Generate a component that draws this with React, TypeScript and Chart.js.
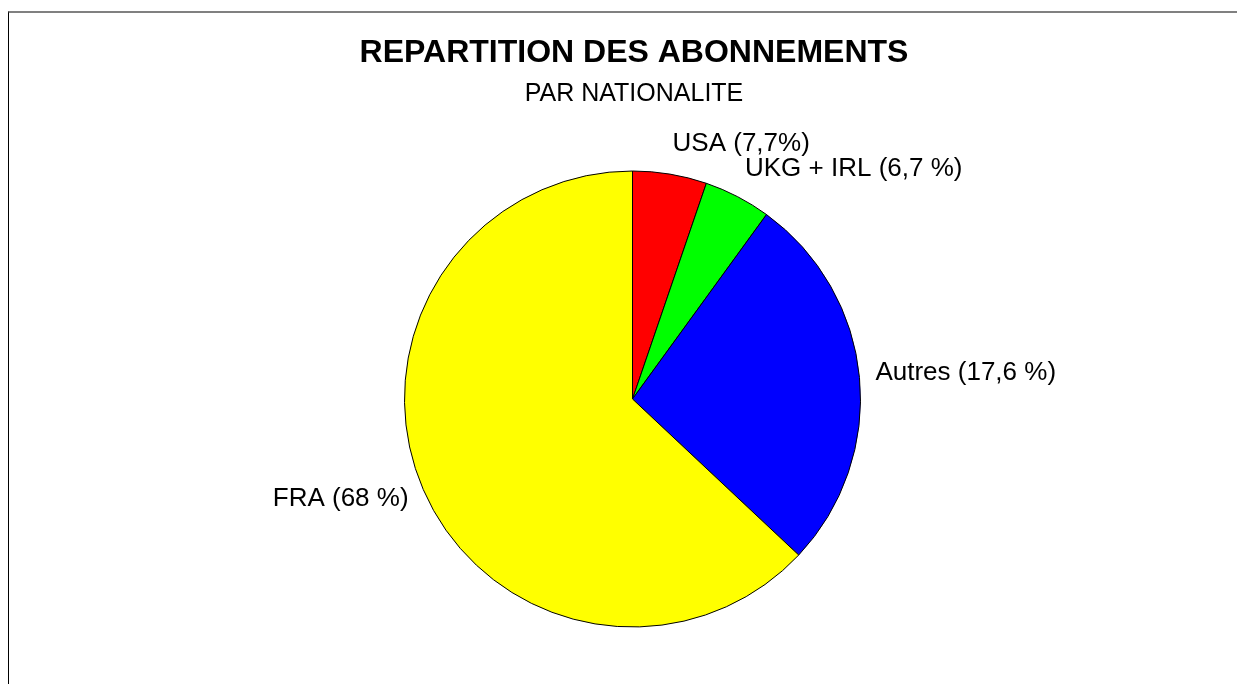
import React, { useEffect, useRef } from "react";
import { Chart, registerables } from "chart.js";

Chart.register(...registerables);

const titleText = "REPARTITION DES ABONNEMENTS";
const subtitleText = "PAR NATIONALITE";
const categories = ["USA", "UKG + IRL", "Autres", "FRA"];
const sliceLabels = ["USA (7,7%)", "UKG + IRL (6,7 %)", "Autres (17,6 %)", "FRA (68 %)"];
const values = [5.25, 4.75, 27.0, 63.0];
const colors = ["#ff0000", "#00ff00", "#0000ff", "#ffff00"];

const FONT = "'Liberation Sans', Arial, sans-serif";

const textPlugin = {
  id: "textPlugin",
  afterDraw(chart: any) {
    const ctx = chart.ctx;
    ctx.save();
    ctx.fillStyle = "#000";
    ctx.textAlign = "center";
    ctx.textBaseline = "middle";
    ctx.font = `bold 32px ${FONT}`;
    ctx.fillText(titleText, 625, 40);
    ctx.font = `25px ${FONT}`;
    ctx.fillText(subtitleText, 625, 81);

    const meta = chart.getDatasetMeta(0);
    const h = 26;
    meta.data.forEach((arc: any, i: number) => {
      const p = arc.getProps(["x", "y", "startAngle", "endAngle", "outerRadius"], true);
      const mid = (p.startAngle + p.endAngle) / 2;
      const r = p.outerRadius + 16;
      const ax = p.x + r * Math.cos(mid);
      const ay = p.y + r * Math.sin(mid);
      const cy = ay + (h / 2) * Math.sin(mid) - 2;
      ctx.font = `26px ${FONT}`;
      ctx.textAlign = Math.cos(mid) >= 0 ? "left" : "right";
      ctx.textBaseline = "middle";
      ctx.fillText(sliceLabels[i], ax, cy);
    });
    ctx.restore();
  },
};

export default function App() {
  const ref = useRef<HTMLCanvasElement>(null);
  useEffect(() => {
    if (!ref.current) return;
    const chart = new Chart(ref.current, {
      type: "pie",
      data: {
        labels: categories,
        datasets: [
          {
            data: values,
            backgroundColor: colors,
            borderColor: "#000",
            borderWidth: 1,
          },
        ],
      },
      options: {
        animation: false,
        responsive: false,
        radius: 228,
        layout: { padding: { left: 11, right: 0, top: 101, bottom: 0 } },
        plugins: {
          legend: { display: false },
          tooltip: { enabled: false },
          title: { display: false },
        },
      } as any,
      plugins: [textPlugin],
    });
    return () => chart.destroy();
  }, []);
  return (
    <div
      style={{
        marginTop: 3,
        borderTop: "2px solid #808080",
        borderLeft: "1px solid #000",
        width: 1237,
        height: 673,
        boxSizing: "border-box",
        background: "#fff",
      }}
    >
      <canvas ref={ref} width={1236} height={671} style={{ display: "block" }} />
    </div>
  );
}
